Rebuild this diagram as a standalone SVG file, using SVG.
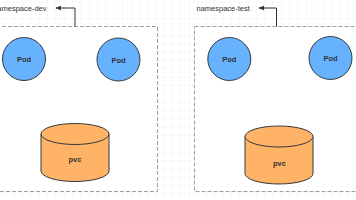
<svg xmlns="http://www.w3.org/2000/svg" width="356" height="200" viewBox="0 0 356 200">
  <defs>
    <pattern id="grid" x="5.3" y="1.5" width="8.35" height="8.35" patternUnits="userSpaceOnUse">
      <path d="M 8.35 0 L 0 0 0 8.35" fill="none" stroke="#ececec" stroke-width="0.8"/>
    </pattern>
    <marker id="arr" viewBox="0 0 10 10" refX="9" refY="5" markerWidth="6" markerHeight="6" orient="auto">
      <path d="M0,1 L10,5 L0,9 Z" fill="#333"/>
    </marker>
    <style>
      .ns { fill: #ffffff; stroke: #9e9e9e; stroke-width: 1; stroke-dasharray: 4 2; }
      .pod { fill: #66b2ff; stroke: #36393d; stroke-width: 1; }
      .cyl { fill: #ffb366; stroke: #36393d; stroke-width: 1; }
      .lbl { font-family: "Liberation Sans", Arial, sans-serif; font-size: 7.5px; fill: #333; }
      .in { font-family: "Liberation Sans", Arial, sans-serif; font-size: 7.5px; font-weight: bold; fill: #333; text-anchor: middle; dominant-baseline: central; }
      .conn { fill: none; stroke: #333; stroke-width: 1; }
    </style>
  </defs>
  <rect width="356" height="200" fill="#ffffff"/>
  <rect width="356" height="200" fill="url(#grid)"/>

  <g id="ns-dev">
    <rect class="ns" x="-10" y="26.5" width="167.5" height="165"/>
    <text class="lbl" x="46.5" y="10.5" text-anchor="end">namespace-dev</text>
  </g>
  <g id="ns-test">
    <rect class="ns" x="194.5" y="26.5" width="175" height="165"/>
    <text class="lbl" x="196.5" y="10.5">namespace-test</text>
  </g>

  <g id="pod-dev-1">
    <circle class="pod" cx="24" cy="59" r="21.5"/>
    <text class="in" x="24" y="59.5">Pod</text>
  </g>
  <g id="pod-dev-2">
    <circle class="pod" cx="118.5" cy="59.5" r="21.5"/>
    <text class="in" x="118.5" y="60">Pod</text>
  </g>
  <g id="pod-test-1">
    <circle class="pod" cx="229.3" cy="59" r="21.5"/>
    <text class="in" x="229.3" y="59.5">Pod</text>
  </g>
  <g id="pod-test-2">
    <circle class="pod" cx="330.5" cy="58" r="21.5"/>
    <text class="in" x="330.5" y="58.5">Pod</text>
  </g>

  <g id="pvc-dev">
    <path class="cyl" d="M41,134 A34,10.5 0 0 1 109,134 L109,171 A34,10.5 0 0 1 41,171 Z"/>
    <path class="cyl" d="M41,134 A34,10.5 0 0 0 109,134" fill="none"/>
    <text class="in" x="75" y="159">pvc</text>
  </g>
  <g id="pvc-test">
    <path class="cyl" d="M245,136.5 A34,10.5 0 0 1 313,136.5 L313,173.5 A34,10.5 0 0 1 245,173.5 Z"/>
    <path class="cyl" d="M245,136.5 A34,10.5 0 0 0 313,136.5" fill="none"/>
    <text class="in" x="279.5" y="163">pvc</text>
  </g>

  <g id="connectors">
    <path class="conn" d="M75,26.5 L75,8 L56,8" marker-end="url(#arr)"/>
    <path class="conn" d="M276.5,26.5 L276.5,8 L259,8" marker-end="url(#arr)"/>
  </g>
</svg>
